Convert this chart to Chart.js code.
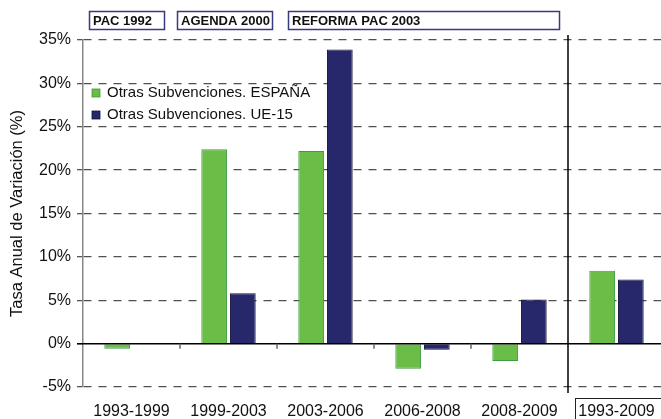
<!DOCTYPE html>
<html>
<head>
<meta charset="utf-8">
<script src="https://cdn.jsdelivr.net/npm/chart.js@4/dist/chart.umd.min.js"></script>
<style>
    html, body { margin: 0; padding: 0; background: #fff; overflow: hidden; }
    #wrap { width: 665px; height: 419px; }
</style>
</head>
<body>
<div id="wrap"><canvas id="barChart" width="665" height="419"></canvas></div>
<script>
const categories = ['1993-1999', '1999-2003', '2003-2006', '2006-2008', '2008-2009', '1993-2009'];
const espana = [-0.6, 22.4, 22.2, -2.9, -2.0, 8.4];
const ue15 = [null, 5.8, 33.9, -0.7, 5.1, 7.4];
const seriesLabels = ['Otras Subvenciones. ESPAÑA', 'Otras Subvenciones. UE-15'];
const yTicks = [-5, 0, 5, 10, 15, 20, 25, 30, 35];
const periods = ['PAC 1992', 'AGENDA 2000', 'REFORMA PAC 2003'];

const FONT = "'Liberation Sans', Arial, sans-serif";

// boxes above the plot (pixel layout only)
const periodBoxes = [
    {x: 89, w: 75},
    {x: 177, w: 95},
    {x: 288, w: 271}
];

const decorPlugin = {
    id: 'decor',
    afterDraw(chart) {
        const c = chart.ctx;
        const xs = chart.scales.x;
        const ys = chart.scales.y;
        const area = chart.chartArea;
        const y0 = ys.getPixelForValue(0);
        const step = xs.getPixelForValue(1) - xs.getPixelForValue(0);

        c.save();
        // zero line
        c.strokeStyle = '#000';
        c.lineWidth = 1.5;
        c.beginPath();
        c.moveTo(area.left - 6, y0);
        c.lineTo(chart.width, y0);
        c.stroke();

        // small ticks on zero line
        c.strokeStyle = '#666';
        c.lineWidth = 1.5;
        for (let i = 1; i < categories.length - 1; i++) {
            const x = Math.round(xs.getPixelForValue(i) - step / 2);
            c.beginPath();
            c.moveTo(x, y0);
            c.lineTo(x, y0 + 5);
            c.stroke();
        }

        // separator before the last period
        const xs5 = Math.round(xs.getPixelForValue(categories.length - 1) - step / 2);
        c.strokeStyle = '#000';
        c.lineWidth = 1.5;
        c.beginPath();
        c.moveTo(xs5, area.top - 5);
        c.lineTo(xs5, area.bottom + 6);
        c.stroke();

        // box round the last label
        c.strokeStyle = '#222';
        c.lineWidth = 1;
        c.strokeRect(xs5 + 7.5, 398.5, 100, 30);

        // legend
        c.font = '15px ' + FONT;
        c.textBaseline = 'middle';
        c.textAlign = 'left';
        chart.data.datasets.forEach((ds, i) => {
            const ly = 93 + i * 22;
            c.fillStyle = ds.backgroundColor;
            c.fillRect(92, ly - 4, 8, 8);
            c.strokeStyle = ds.borderColor;
            c.lineWidth = 0.8;
            c.strokeRect(92, ly - 4, 8, 8);
            c.fillStyle = '#111';
            c.fillText(ds.label, 107, ly);
        });

        // period boxes
        c.font = 'bold 13px ' + FONT;
        periods.forEach((p, i) => {
            const b = periodBoxes[i];
            c.strokeStyle = '#3a3a80';
            c.lineWidth = 1.5;
            c.strokeRect(b.x + 0.5, 11.5, b.w, 18);
            c.fillStyle = '#111';
            c.fillText(p, b.x + 4, 21);
        });
        c.restore();
    }
};

const ctx = document.getElementById('barChart').getContext('2d');

new Chart(ctx, {
    type: 'bar',
    data: {
        labels: categories,
        datasets: [
            {
                label: seriesLabels[0],
                data: espana,
                backgroundColor: '#6abd47',
                borderColor: '#3f9a45',
                borderWidth: 1
            },
            {
                label: seriesLabels[1],
                data: ue15,
                backgroundColor: '#26286b',
                borderColor: '#121230',
                borderWidth: 1
            }
        ]
    },
    options: {
        responsive: false,
        animation: false,
        layout: {padding: {top: 40, left: 0, right: 0, bottom: 0}},
        categoryPercentage: 0.59,
        barPercentage: 0.9,
        scales: {
            x: {
                grid: {display: false, drawTicks: false},
                border: {display: false},
                ticks: {
                    color: '#111',
                    padding: 15,
                    font: {size: 16, family: FONT},
                    maxRotation: 0,
                    autoSkip: false
                },
                afterFit: (scale) => {
                    scale.height = 32;
                    scale.paddingLeft = 0;
                    scale.paddingRight = 0;
                }
            },
            y: {
                min: -5,
                max: 35,
                afterBuildTicks: (scale) => {
                    scale.ticks = yTicks.map(v => ({value: v}));
                },
                grid: {
                    color: (c) => c.tick && c.tick.value === 0 ? 'rgba(0,0,0,0)' : '#505050',
                    lineWidth: 1.3,
                    tickLength: 6,
                    tickColor: '#555',
                    tickBorderDash: []
                },
                border: {display: true, color: '#888', width: 1.5, dash: [8, 7]},
                ticks: {
                    color: '#111',
                    padding: 6,
                    font: {size: 16, family: FONT},
                    callback: (v) => v + '%'
                },
                title: {
                    display: true,
                    text: 'Tasa Anual de Variación (%)',
                    color: '#111',
                    font: {size: 16.5, family: FONT},
                    padding: {top: 8, bottom: 0}
                },
                afterFit: (scale) => {
                    scale.width = 83;
                    scale.paddingTop = 0;
                    scale.paddingBottom = 0;
                }
            }
        },
        plugins: {
            legend: {display: false},
            tooltip: {enabled: false}
        }
    },
    plugins: [decorPlugin]
});
</script>
</body>
</html>
